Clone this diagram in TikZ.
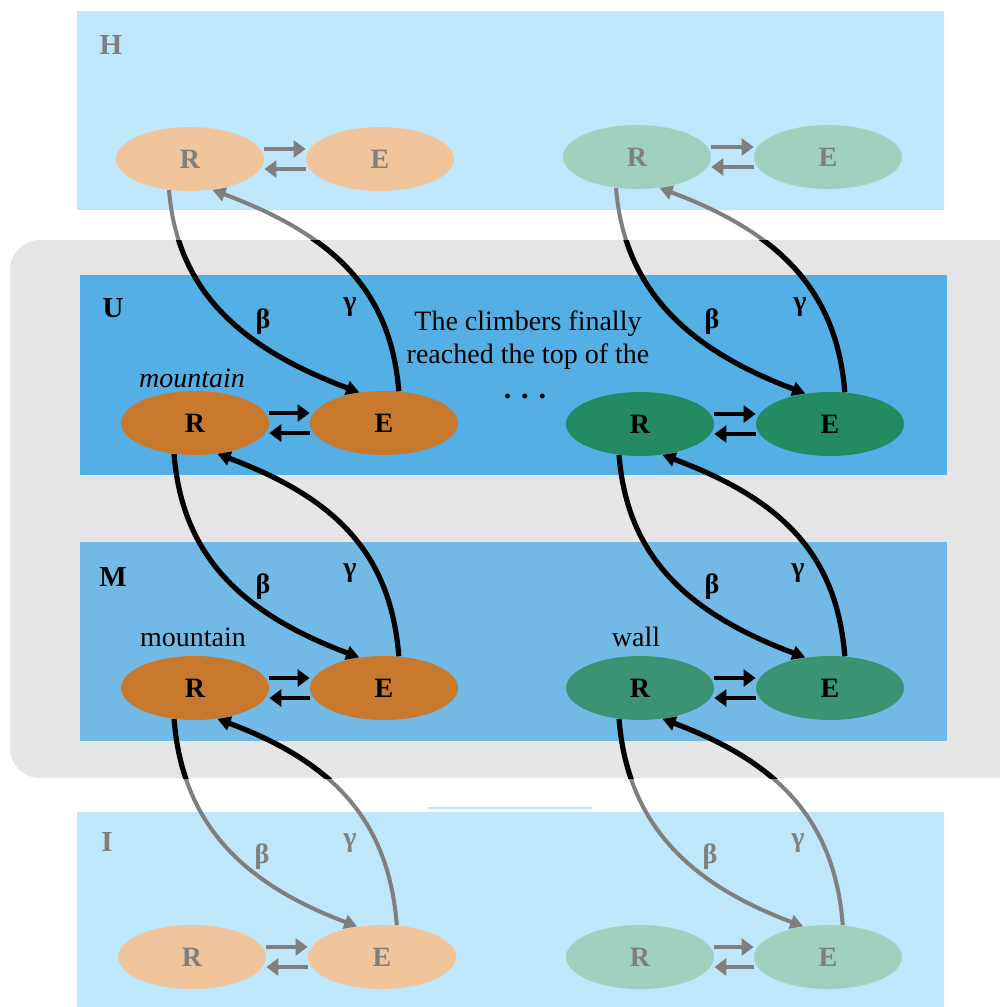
\documentclass[tikz,border=0pt]{standalone}
\usepackage{fontspec}
\setmainfont{Liberation Serif}
\usetikzlibrary{arrows.meta,shapes.geometric,calc}
\definecolor{boxH}{HTML}{BFE7FB}
\definecolor{boxU}{HTML}{53AFE4}
\definecolor{boxM}{HTML}{72BAE5}
\definecolor{grayrect}{HTML}{E5E5E5}
\definecolor{lorange}{HTML}{F0C59C}
\definecolor{lgreen}{HTML}{A0D1BF}
\definecolor{dorange}{HTML}{C9792E}
\definecolor{greenU}{HTML}{238A61}
\definecolor{greenM}{HTML}{3A9473}
\definecolor{lgray}{HTML}{7F7F7F}
\newcommand\bgcurves[3]{%
  \draw[#3] (#1.236) .. controls +(8,100) and +(-120,-45) .. (#2.129);
  \draw[#3] (#2.65) .. controls +(-8,-103) and +(118,44) .. (#1.-54);
}
\begin{document}
\begin{tikzpicture}[x=0.5pt,y=-0.5pt,
  st/.style={ellipse, minimum width=74pt, minimum height=32pt, inner sep=0pt,
    font=\fontsize{14}{16}\selectfont\bfseries},
  faint/.style={text=lgray},
  lab/.style={font=\fontsize{14.5}{16}\selectfont\bfseries, inner sep=0pt},
  gl/.style={font=\fontsize{14}{16}\selectfont\bfseries, inner sep=0pt},
  txt/.style={font=\fontsize{14}{16.5}\selectfont, inner sep=0pt, align=center},
  xg/.style={line width=1.9pt, draw=lgray, -{Triangle[length=6pt,width=8.5pt]}},
  xb/.style={line width=2.1pt, draw=black, -{Triangle[length=6pt,width=8.5pt]}},
  cg/.style={line width=2pt, draw=lgray, -{Triangle[length=6.5pt,width=7pt]}},
  cb/.style={line width=2.6pt, draw=black, -{Triangle[length=6.5pt,width=7pt]}}]
\useasboundingbox (0,0) rectangle (1000,1007);
% backgrounds
\fill[grayrect, rounded corners=15pt] (10,240) rectangle (1030,778);
\fill[boxH] (77,11) rectangle (944,210);
\fill[boxH] (77,812) rectangle (944,1007);
\draw[boxH, line width=1pt] (428,808) -- (592,808);
\fill[boxU] (80,275) rectangle (947,475);
\fill[boxM] (80,542) rectangle (947,741);
% layer labels
\node[lab, text=lgray] (lH) at (111,45) {H};
\node[lab] (lU) at (113,308) {U};
\node[lab] (lM) at (113,577) {M};
\node[lab, text=lgray] (lI) at (107,842) {I};
% ellipses
\node[st, fill=lorange, faint] (hR) at (190,159) {R};
\node[st, fill=lorange, faint] (hE) at (380,159) {E};
\node[st, fill=lgreen, faint] (hR2) at (637,157) {R};
\node[st, fill=lgreen, faint] (hE2) at (828,157) {E};
\node[st, fill=dorange] (uR) at (195,423) {R};
\node[st, fill=dorange] (uE) at (384,423) {E};
\node[st, fill=greenU] (uR2) at (640,424) {R};
\node[st, fill=greenU] (uE2) at (830,424) {E};
\node[st, fill=dorange] (mR) at (195,688) {R};
\node[st, fill=dorange] (mE) at (384,688) {E};
\node[st, fill=greenM] (mR2) at (640,688) {R};
\node[st, fill=greenM] (mE2) at (830,688) {E};
\node[st, fill=lorange, faint] (iR) at (192,957) {R};
\node[st, fill=lorange, faint] (iE) at (382,957) {E};
\node[st, fill=lgreen, faint] (iR2) at (640,957) {R};
\node[st, fill=lgreen, faint] (iE2) at (828,957) {E};
% exchange arrows
\foreach \r/\e/\s in {hR/hE/xg, hR2/hE2/xg, uR/uE/xb, uR2/uE2/xb, mR/mE/xb, mR2/mE2/xb, iR/iE/xg, iR2/iE2/xg}{
  \draw[\s] ($(\r.east)+(0,-10)$) -- ($(\e.west)+(0,-10)$);
  \draw[\s] ($(\e.west)+(0,10)$) -- ($(\r.east)+(0,10)$);
}
% curves between layers
\bgcurves{hR}{uE}{cg}
\bgcurves{hR2}{uE2}{cg}
\bgcurves{mR}{iE}{cg}
\bgcurves{mR2}{iE2}{cg}
\begin{scope}
  \clip (0,240) rectangle (1000,778);
  \bgcurves{hR}{uE}{cb}
  \bgcurves{hR2}{uE2}{cb}
  \bgcurves{mR}{iE}{cb}
  \bgcurves{mR2}{iE2}{cb}
\end{scope}
\bgcurves{uR}{mE}{cb}
\bgcurves{uR2}{mE2}{cb}
% rate labels
\node[gl] (b1) at (263,322) {β};
\node[gl] (g1) at (350,307) {γ};
\node[gl] (b2) at (712,322) {β};
\node[gl] (g2) at (800,307) {γ};
\node[gl] (b3) at (263,587) {β};
\node[gl] (g3) at (350,573) {γ};
\node[gl] (b4) at (712,587) {β};
\node[gl] (g4) at (798,573) {γ};
\node[gl, text=lgray] (b5) at (262,857) {β};
\node[gl, text=lgray] (g5) at (350,843) {γ};
\node[gl, text=lgray] (b6) at (710,857) {β};
\node[gl, text=lgray] (g6) at (798,843) {γ};
% texts
\node[txt] (sent) at (528,340) {The climbers finally\\reached the top of the};
\node[txt, font=\fontsize{15}{16.5}\selectfont\bfseries] (dots) at (525,396) {.\,\,.\,\,.};
\node[txt, font=\fontsize{14}{16.5}\selectfont\itshape] (wU) at (192,378) {mountain};
\node[txt] (wM) at (193,637) {mountain};
\node[txt] (wW) at (636,637) {wall};
\end{tikzpicture}
\end{document}
